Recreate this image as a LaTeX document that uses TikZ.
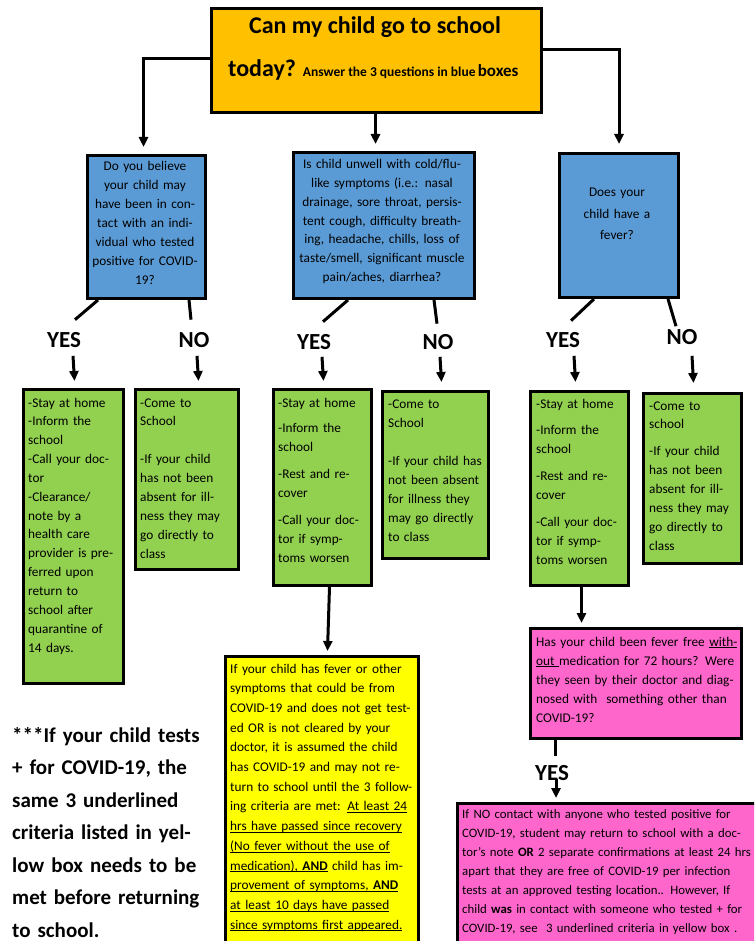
\documentclass[tikz,border=0pt]{standalone}
\usepackage{fontspec}
\setmainfont{Carlito}
\usetikzlibrary{calc,arrows.meta}
\definecolor{cgold}{HTML}{FFC000}
\definecolor{cblue}{HTML}{5B9BD5}
\definecolor{cgreen}{HTML}{92D050}
\definecolor{cyell}{HTML}{FFFF00}
\definecolor{cpink}{HTML}{FF66CC}
\newcommand{\myul}[1]{\underline{\raisebox{0pt}[\height][0pt]{#1}}}
\begin{document}
\begin{tikzpicture}[x=1pt,y=-1pt,
  box/.style={draw=black,line width=3pt,inner sep=0pt,anchor=north west},
  ln/.style={draw=black,line width=3pt},
  arr/.style={draw=black,line width=3pt,-{Triangle[length=10pt,width=9pt]}},
  ltxt/.style={inner sep=0pt,text width=#1,align=left,anchor=base west},
  ctxt/.style={inner sep=0pt,text width=#1,align=center,anchor=base},
  lab/.style={inner sep=0pt,font=\fontsize{23}{26}\selectfont\bfseries}
]
\useasboundingbox (0,0) rectangle (754,941);
\clip (0,0) rectangle (754,941);
\fill[white] (0,0) rectangle (754,941);

% boxes
\node[box,fill=cgold,minimum width=330,minimum height=104] (top) at (210,7) {};
\node[box,fill=cblue,minimum width=118,minimum height=143] (b1) at (86,154) {};
\node[box,fill=cblue,minimum width=181,minimum height=146] (b2) at (292,151) {};
\node[box,fill=cblue,minimum width=119,minimum height=144] (b3) at (558,152) {};
\node[box,fill=cgreen,minimum width=100,minimum height=294] (g1) at (22,388) {};
\node[box,fill=cgreen,minimum width=103,minimum height=180] (g2) at (134,388) {};
\node[box,fill=cgreen,minimum width=98,minimum height=196] (g3) at (272,388) {};
\node[box,fill=cgreen,minimum width=106,minimum height=167] (g4) at (381,390) {};
\node[box,fill=cgreen,minimum width=98,minimum height=194] (g5) at (529,390) {};
\node[box,fill=cgreen,minimum width=98,minimum height=170] (g6) at (642,392) {};
\node[box,fill=cyell,minimum width=193,minimum height=320] (y1) at (224,655) {};
\node[box,fill=cpink,minimum width=211,minimum height=110] (p1) at (529,627) {};
\node[box,fill=cpink,minimum width=330,minimum height=170] (p2) at (456,802) {};

% title
\node[inner sep=0pt,anchor=base,font=\fontsize{24}{28}\selectfont\bfseries] (t1) at (375,34) {Can my child go to school};
\node[inner sep=0pt,anchor=base west] (t2) at (228,77) {{\fontsize{24}{28}\selectfont\bfseries today?}\hspace{7pt}{\fontsize{13.5}{16}\selectfont\bfseries Answer the 3 questions in blue} {\fontsize{17}{20}\selectfont\bfseries boxes}};

% blue texts
\node[ctxt=200,font=\fontsize{13.3}{18.9}\selectfont] (b1t) at (145,171) {Do you believe\\your child may\\have been in con-\\tact with an indi-\\vidual who tested\\positive for COVID-\\19?};
\node[ctxt=220,font=\fontsize{13.3}{18.7}\selectfont] (b2t) at (382,169) {Is child unwell with cold/flu-\\like symptoms (i.e.: nasal\\drainage, sore throat, persis-\\tent cough, difficulty breath-\\ing, headache, chills, loss of\\taste/smell, significant muscle\\pain/aches, diarrhea?};
\node[ctxt=200,font=\fontsize{13.3}{21.5}\selectfont] (b3t) at (617,197) {Does your\\child have a\\fever?};

% green texts
\node[ltxt=160,font=\fontsize{13.3}{18.85}\selectfont] (g1t) at (28,407) {-Stay at home\\-Inform the\\school\\-Call your doc-\\tor\\-Clearance/\\note by a\\health care\\provider is pre-\\ferred upon\\return to\\school after\\quarantine of\\14 days.};
\node[ltxt=160,font=\fontsize{13.3}{18.9}\selectfont] (g2t) at (140,407) {-Come to\\School\\[18.9pt]-If your child\\has not been\\absent for ill-\\ness they may\\go directly to\\class};
\node[ltxt=160,font=\fontsize{13.3}{18.9}\selectfont] (g3t) at (278,407) {-Stay at home\\[7pt]-Inform the\\school\\[8pt]-Rest and re-\\cover\\[8pt]-Call your doc-\\tor if symp-\\toms worsen};
\node[ltxt=160,font=\fontsize{13.3}{19}\selectfont] (g4t) at (388,408) {-Come to\\School\\[19pt]-If your child has\\not been absent\\for illness they\\may go directly\\to class};
\node[ltxt=160,font=\fontsize{13.3}{18.9}\selectfont] (g5t) at (536,408) {-Stay at home\\[8pt]-Inform the\\school\\[8pt]-Rest and re-\\cover\\[8pt]-Call your doc-\\tor if symp-\\toms worsen};
\node[ltxt=160,font=\fontsize{13.3}{18.9}\selectfont] (g6t) at (649,410) {-Come to\\school\\[8pt]-If your child\\has not been\\absent for ill-\\ness they may\\go directly to\\class};

% yellow text
\node[ltxt=240,font=\fontsize{13.3}{19.7}\selectfont] (y1t) at (230,673) {If your child has fever or other\\symptoms that could be from\\COVID-19 and does not get test-\\ed OR is not cleared by your\\doctor, it is assumed the child\\has COVID-19 and may not re-\\turn to school until the 3 follow-\\ing criteria are met: \myul{At least 24}\\\myul{hrs have passed since recovery}\\\myul{(No fever without the use of}\\\myul{medication), \textbf{AND}} child has im-\\\myul{provement of symptoms, \textbf{AND}}\\\myul{at least 10 days have passed}\\\myul{since symptoms first appeared.}};

% pink texts
\node[ltxt=260,font=\fontsize{13.3}{19}\selectfont] (p1t) at (536,646) {Has your child been fever free \myul{with-}\\\myul{out\ }medication for 72 hours? Were\\they seen by their doctor and diag-\\nosed with\ \ something other than\\COVID-19?};
\node[ltxt=320,font=\fontsize{12.8}{19}\selectfont] (p2t) at (462,818) {If NO contact with anyone who tested positive for\\COVID-19, student may return to school with a doc-\\tor’s note \textbf{OR} 2 separate confirmations at least 24 hrs\\apart that they are free of COVID-19 per infection\\tests at an approved testing location.. However, If\\child \textbf{was} in contact with someone who tested + for\\COVID-19, see\ \ 3 underlined criteria in yellow box .};

% bottom-left note
\node[ltxt=240,font=\fontsize{21}{32.5}\selectfont\bfseries] (note) at (12,742) {***If your child tests\\+ for COVID-19, the\\same 3 underlined\\criteria listed in yel-\\low box needs to be\\met before returning\\to school.};

% labels
\node[lab] (yes1) at (64,340) {YES};
\node[lab] (no1) at (194,340) {NO};
\node[lab] (yes2) at (314,342) {YES};
\node[lab] (no2) at (438,342) {NO};
\node[lab] (yes3) at (563,340) {YES};
\node[lab] (no3) at (682,337) {NO};
\node[lab] (yes4) at (552,773) {YES};

% connectors from title
\draw[arr] ($(top.north west)+(0,52)$) -| ($(b1.north)+(-3,-7)$);
\draw[arr,shorten >=7pt] ($(top.south)+(-1,0)$) -- ($(top.south |- b2.north)+(-1,0)$);
\draw[arr,shorten >=8pt] ($(top.north east)+(0,43)$) -| (b3.north);

% blue to labels
\draw[ln] ($(b1.south west)+(12,0)$) -- ($(yes1.north)+(11,-12.5)$);
\draw[ln] ($(b1.south west)+(103,0)$) -- ($(no1.north)+(-3,-12.5)$);
\draw[ln] ($(b2.south west)+(56,0)$) -- ($(yes2.north)+(9,-12.5)$);
\draw[ln] ($(b2.south west)+(142,0)$) -- ($(no2.north)+(-1,-10.5)$);
\draw[ln] ($(b3.south west)+(36,0)$) -- ($(yes3.north)+(8,-11.5)$);
\draw[ln] ($(b3.south west)+(110,0)$) -- ($(no3.north)+(-6,-3)$);

% labels to green
\draw[arr] ($(yes1.south)+(9,8)$) -- ($(g1.north)+(1,-7)$);
\draw[arr] ($(no1.south)+(3,8)$) -- ($(g2.north)+(11.5,-7)$);
\draw[arr] ($(yes2.south)+(8,7)$) -- ($(g3.north)+(1,-7)$);
\draw[arr] ($(no2.south)+(2,7)$) -- ($(g4.north)+(6,-8)$);
\draw[arr] ($(yes3.south)+(11,8)$) -- ($(g5.north)+(-4,-8)$);
\draw[arr] ($(no3.south)+(10,11)$) -- ($(g6.north)+(1,-9)$);

% lower connectors
\draw[arr] ($(g3.south)+(7,0)$) -- ($(y1.north)+(5.5,-4)$);
\draw[arr,shorten >=4pt] ($(g5.south)+(2,0)$) -- ($(g5.south |- p1.north)+(2,0)$);
\draw[ln] ($(p1.south west)+(26,0)$) -- ($(yes4.north)+(3,-9.5)$);
\draw[arr] ($(yes4.south)+(4,-2)$) -- ($(yes4.south |- p2.north)+(4,-4)$);
\end{tikzpicture}
\end{document}
